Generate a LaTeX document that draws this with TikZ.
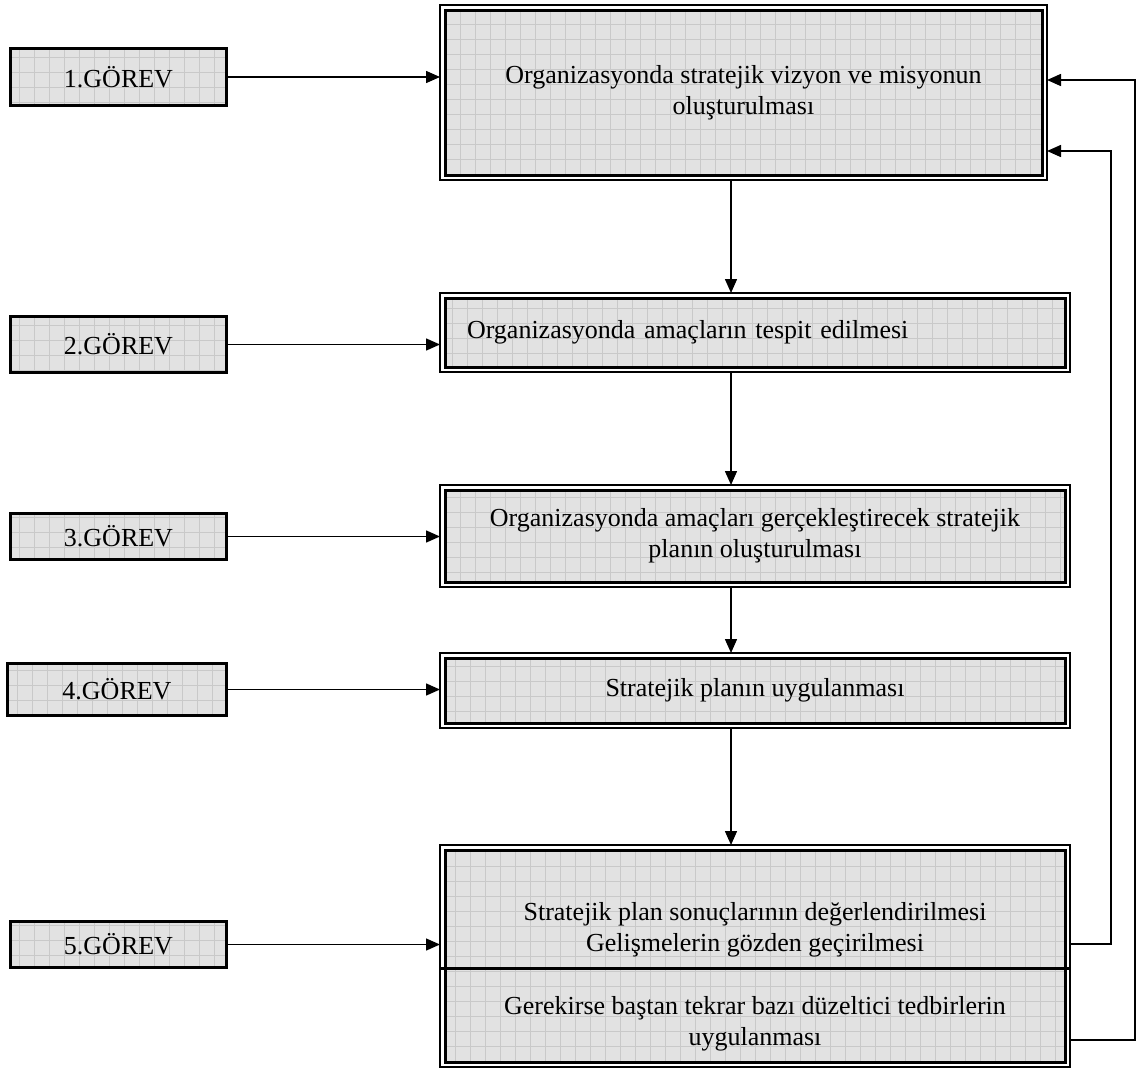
\documentclass[tikz,border=0pt]{standalone}
\usepackage{fontspec}
\setmainfont{Liberation Serif}
\usetikzlibrary{arrows.meta}
\definecolor{boxfill}{HTML}{E2E2E2}
\definecolor{gridline}{HTML}{C9C9C9}
\tikzset{
  txtfont/.style={font=\fontsize{26}{31}\selectfont},
  bigbox/.style={draw, line width=1.4pt, fill=white, inner sep=0pt, outer sep=0pt, txtfont,
    path picture={
      \path (path picture bounding box.north west) ++(5pt,-5pt) coordinate (pp1);
      \path (path picture bounding box.south east) ++(-5pt,5pt) coordinate (pp2);
      \begin{scope}
        \clip (pp1) rectangle (pp2);
        \fill[boxfill] (pp1) rectangle (pp2);
        \draw[gridline, line width=0.6pt, step=15pt] (pp1) grid (pp2);
      \end{scope}
      \draw[line width=3pt] (pp1) rectangle (pp2);
    }},
  gorev/.style={draw, line width=3pt, fill=boxfill, inner sep=0pt, outer sep=0pt, txtfont,
    minimum width=216pt,
    path picture={
      \draw[gridline, line width=0.6pt, step=15pt] (path picture bounding box.south west) grid (path picture bounding box.north east);
    }},
  txt/.style={inner sep=0pt, align=center, txtfont},
  arr/.style={-{Triangle[length=14pt,width=12pt]}, line width=1.5pt},
  fb/.style={arr, line join=miter},
}
\begin{document}
\begin{tikzpicture}[x=1pt,y=-1pt]
\useasboundingbox (0,0) rectangle (1137,1068);

% main boxes
\node[bigbox, minimum width=607pt, minimum height=175pt, align=center, text depth=6pt] (b1) at (743.5,92.5)
  {Organizasyonda stratejik vizyon ve misyonun\\oluşturulması};
\node[bigbox, minimum width=630pt, minimum height=79pt, text width=576pt, align=left] (b2) at (755,332.5)
  {Organizasyonda amaçların tespit edilmesi};
\node[bigbox, minimum width=630pt, minimum height=102pt, align=center] (b3) at (755,536)
  {Organizasyonda amaçları gerçekleştirecek stratejik\\planın oluşturulması};
\node[bigbox, minimum width=630pt, minimum height=75pt, align=center] (b4) at (755,690.5)
  {Stratejik planın uygulanması};
\node[bigbox, minimum width=630pt, minimum height=222pt] (b5) at (755,956) {};
\coordinate (d5) at (0,968);
\draw[line width=3pt] (b5.west |- d5) -- (b5.east |- d5);
\node[txt] (b5a) at (755,930)
  {Stratejik plan sonuçlarının değerlendirilmesi\\Gelişmelerin gözden geçirilmesi};
\node[txt] (b5b) at (755,1024)
  {Gerekirse baştan tekrar bazı düzeltici tedbirlerin\\uygulanması};

% task boxes
\node[gorev, minimum height=57pt] (g1) at (118.5,77) {1.GÖREV};
\node[gorev, minimum height=56pt] (g2) at (118.5,344.5) {2.GÖREV};
\node[gorev, minimum height=46pt] (g3) at (118.5,536.5) {3.GÖREV};
\node[gorev, minimum width=219pt, minimum height=52pt] (g4) at (117,689.5) {4.GÖREV};
\node[gorev, minimum height=46pt] (g5) at (118.5,944.5) {5.GÖREV};

% task arrows
\draw[arr] (g1.east) -- (g1.east -| b1.west);
\draw[arr] (g2.east) -- (g2.east -| b2.west);
\draw[arr] (g3.east) -- (g3.east -| b3.west);
\draw[arr] (g4.east) -- (g4.east -| b4.west);
\draw[arr] (g5.east) -- (g5.east -| b5.west);

% vertical flow
\coordinate (vx) at (731,0);
\draw[arr] (b1.south -| vx) -- (b2.north -| vx);
\draw[arr] (b2.south -| vx) -- (b3.north -| vx);
\draw[arr] (b3.south -| vx) -- (b4.north -| vx);
\draw[arr] (b4.south -| vx) -- (b5.north -| vx);

% feedback loops
\coordinate (fx1) at (1111,0);
\coordinate (fx2) at (1135,0);
\coordinate (fy1) at (0,944);
\coordinate (fy2) at (0,1040);
\coordinate (ty1) at (0,151);
\coordinate (ty2) at (0,80);
\draw[fb] (b5.east |- fy1) -- (fx1 |- fy1) -- (fx1 |- ty1) -- (b1.east |- ty1);
\draw[fb] (b5.east |- fy2) -- (fx2 |- fy2) -- (fx2 |- ty2) -- (b1.east |- ty2);
\end{tikzpicture}
\end{document}
